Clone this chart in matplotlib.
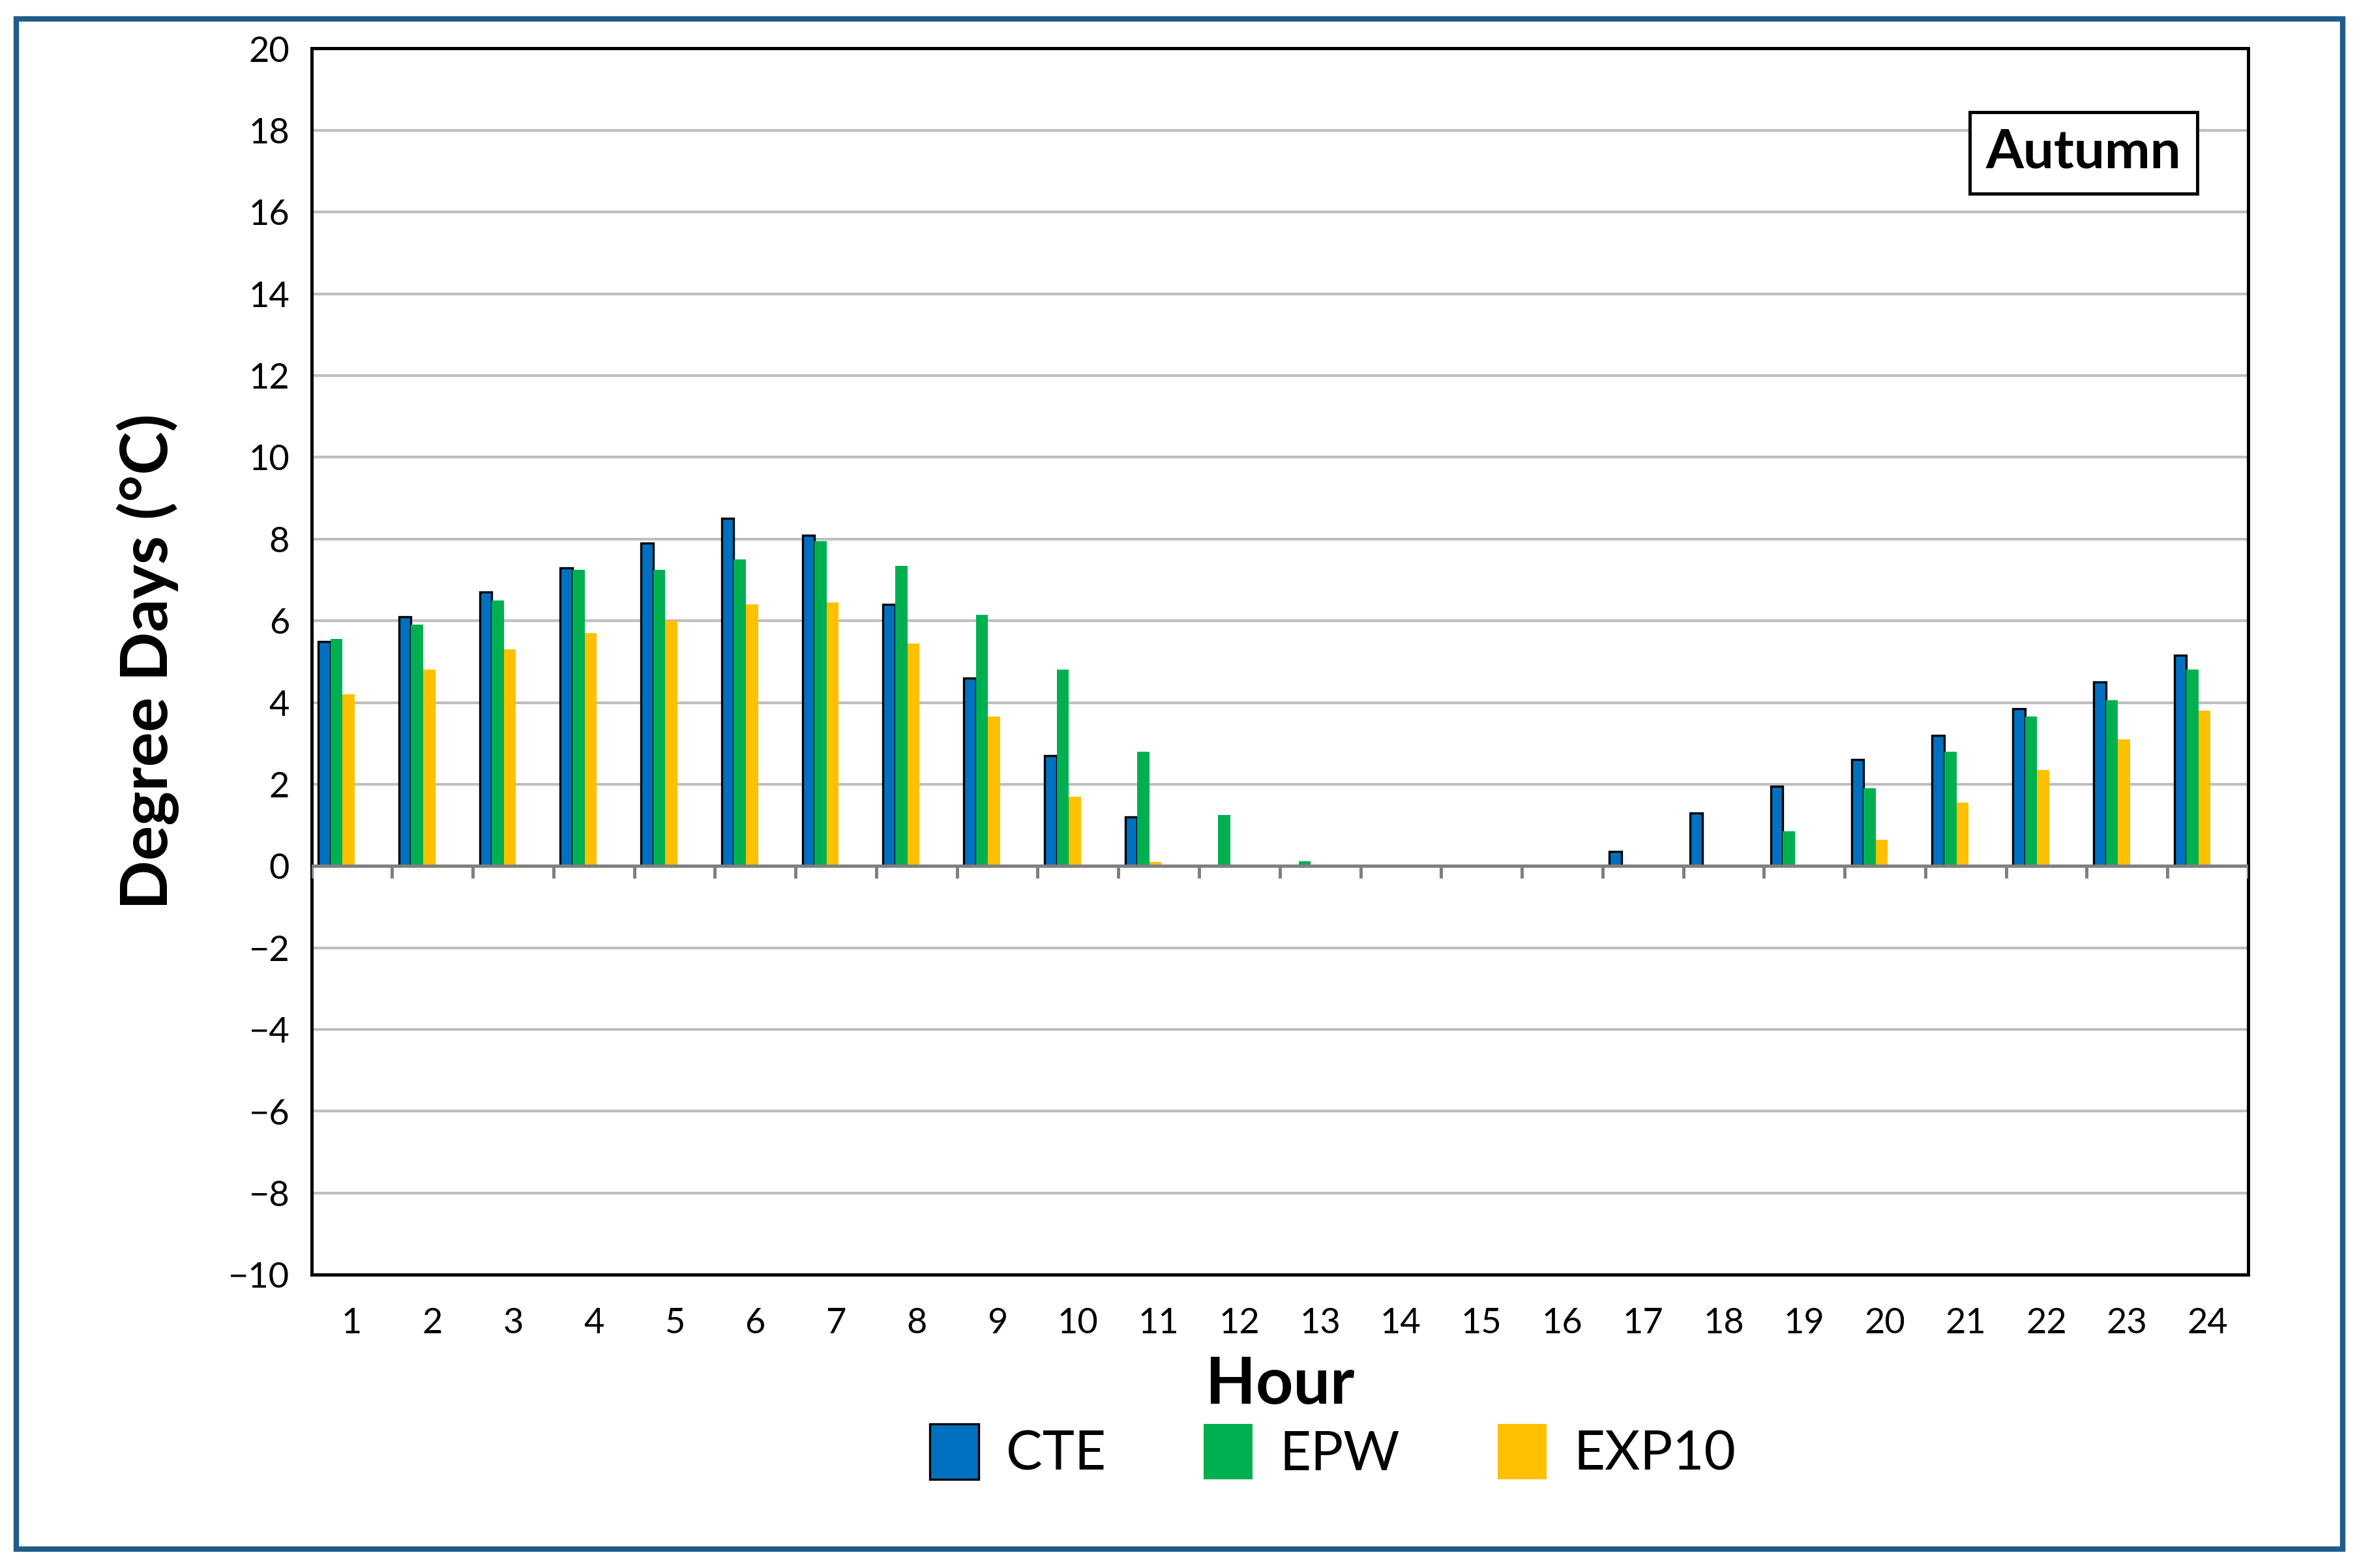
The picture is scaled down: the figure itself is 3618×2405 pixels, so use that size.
import matplotlib
matplotlib.use("Agg")
import matplotlib.pyplot as plt
import numpy as np
from matplotlib.patches import Rectangle

plt.rcParams['font.family'] = ['Lato', 'DejaVu Sans']

hours = [str(h) for h in range(1, 25)]
cte = [5.5, 6.1, 6.7, 7.3, 7.9, 8.5, 8.1, 6.4, 4.6, 2.7, 1.2, 0, 0, 0, 0, 0, 0.35, 1.3, 1.95, 2.6, 3.2, 3.85, 4.5, 5.15]
epw = [5.55, 5.9, 6.5, 7.25, 7.25, 7.5, 7.95, 7.35, 6.15, 4.8, 2.8, 1.25, 0.12, 0, 0, 0, 0, 0, 0.85, 1.9, 2.8, 3.65, 4.05, 4.8]
exp10 = [4.2, 4.8, 5.3, 5.7, 6.0, 6.4, 6.45, 5.45, 3.65, 1.7, 0.1, 0, 0, 0, 0, 0, 0, 0, 0, 0.65, 1.55, 2.35, 3.1, 3.8]

fig = plt.figure(figsize=(12.06, 8.017), dpi=300)
ax = fig.add_axes([0.132, 0.187, 0.821, 0.782])

x = np.arange(len(hours))
w = 0.15
ax.bar(x - 0.34, cte, w, color='#0070C0', edgecolor='black', linewidth=0.8, label='CTE', zorder=3)
ax.bar(x - 0.19, epw, w, color='#00B050', label='EPW', zorder=3)
ax.bar(x - 0.04, exp10, w, color='#FFC000', label='EXP10', zorder=3)

ax.set_xlim(-0.5, len(hours) - 0.5)
ax.set_ylim(-10, 20)
ax.set_yticks(np.arange(-10, 21, 2))
ax.set_xticks(x)
ax.set_xticklabels(hours, fontsize=13)
ax.tick_params(axis='x', length=0, pad=12)
ax.tick_params(axis='y', labelsize=13, length=0, pad=8)
ax.grid(axis='y', color='#BFBFBF', linewidth=1, zorder=0)
ax.axhline(0, color='#808080', linewidth=1.2, zorder=4)
ax.vlines(np.arange(len(hours) + 1) - 0.5, -0.3, 0, color='#808080', linewidth=1.2, zorder=4)
for s in ax.spines.values():
    s.set_color('black')
    s.set_linewidth(1.2)

ax.set_xlabel('Hour', fontsize=24, fontweight='bold', labelpad=6)
ax.set_ylabel('Degree Days (°C)', fontsize=24, fontweight='bold', labelpad=18)

ax.text(0.915, 0.915, 'Autumn', transform=ax.transAxes, ha='center', va='center',
        fontsize=20, fontweight='bold',
        bbox=dict(boxstyle='square,pad=0.3', facecolor='white', edgecolor='black', linewidth=1.2))

fig.legend(loc='lower center', bbox_to_anchor=(0.565, 0.025), ncol=3, frameon=False,
           fontsize=20, handlelength=0.9, handleheight=1.2, columnspacing=1.8, handletextpad=0.5)

fig.patches.append(Rectangle((0.007, 0.012), 0.986, 0.976, transform=fig.transFigure,
                             fill=False, edgecolor='#1F5C8B', linewidth=2))

fig.savefig('out.png', dpi=300)
